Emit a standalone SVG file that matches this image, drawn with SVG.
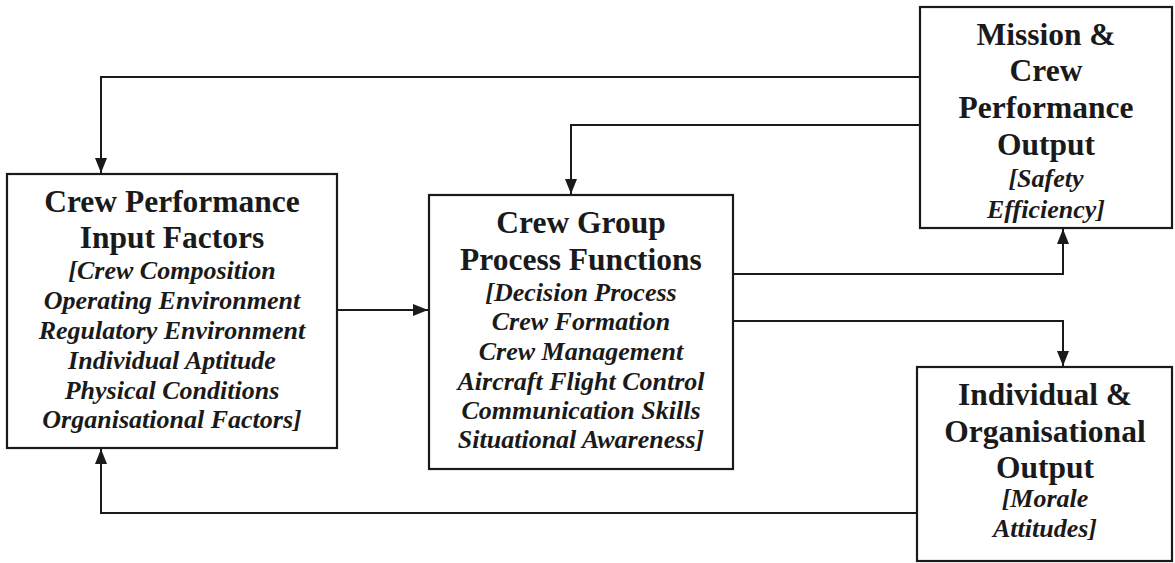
<svg xmlns="http://www.w3.org/2000/svg" width="1175" height="563" viewBox="0 0 1175 563">
  <style>
    .box { fill: #ffffff; stroke: #1a1a1a; stroke-width: 2.2; }
    .wire { fill: none; stroke: #1a1a1a; stroke-width: 2; }
    .title { font-family: "Liberation Serif", "Times New Roman", serif; font-weight: bold; font-size: 31.5px; fill: #1a1a1a; text-anchor: middle; }
    .sub { font-family: "Liberation Serif", "Times New Roman", serif; font-weight: bold; font-style: italic; font-size: 26px; fill: #1a1a1a; text-anchor: middle; }
  </style>
  <defs>
    <marker id="arrow" viewBox="0 0 15 12" refX="15" refY="6" markerWidth="15" markerHeight="12" markerUnits="userSpaceOnUse" orient="auto">
      <path d="M0,0 L15,6 L0,12 Z" fill="#1a1a1a"/>
    </marker>
  </defs>
  <rect width="1175" height="563" fill="#ffffff"/>

  <g id="connectors">
    <!-- mission output feeds back to input factors -->
    <path class="wire" d="M920,77 H101 V173" marker-end="url(#arrow)"/>
    <!-- mission output feeds back to group process -->
    <path class="wire" d="M920,125 H571 V194" marker-end="url(#arrow)"/>
    <!-- input factors to group process -->
    <path class="wire" d="M337,310 H428" marker-end="url(#arrow)"/>
    <!-- group process to mission output -->
    <path class="wire" d="M733,274 H1063 V229" marker-end="url(#arrow)"/>
    <!-- group process to individual output -->
    <path class="wire" d="M733,321 H1063 V366" marker-end="url(#arrow)"/>
    <!-- individual output feeds back to input factors -->
    <path class="wire" d="M917,513 H101 V449" marker-end="url(#arrow)"/>
  </g>

  <g id="input-factors">
    <rect class="box" x="7" y="174" width="330" height="274"/>
    <text class="title" x="172" y="212">Crew Performance</text>
    <text class="title" x="172" y="248">Input Factors</text>
    <text class="sub" x="172" y="279">[Crew Composition</text>
    <text class="sub" x="172" y="309">Operating Environment</text>
    <text class="sub" x="172" y="339">Regulatory Environment</text>
    <text class="sub" x="172" y="369">Individual Aptitude</text>
    <text class="sub" x="172" y="399">Physical Conditions</text>
    <text class="sub" x="172" y="428">Organisational Factors]</text>
  </g>

  <g id="group-process">
    <rect class="box" x="429" y="195" width="304" height="274"/>
    <text class="title" x="581" y="233">Crew Group</text>
    <text class="title" x="581" y="270">Process Functions</text>
    <text class="sub" x="581" y="301">[Decision Process</text>
    <text class="sub" x="581" y="330">Crew Formation</text>
    <text class="sub" x="581" y="360">Crew Management</text>
    <text class="sub" x="581" y="390">Aircraft Flight Control</text>
    <text class="sub" x="581" y="419">Communication Skills</text>
    <text class="sub" x="581" y="448">Situational Awareness]</text>
  </g>

  <g id="mission-output">
    <rect class="box" x="920" y="7" width="252" height="221"/>
    <text class="title" x="1046" y="45">Mission &amp;</text>
    <text class="title" x="1046" y="81">Crew</text>
    <text class="title" x="1046" y="118">Performance</text>
    <text class="title" x="1046" y="155">Output</text>
    <text class="sub" x="1046" y="187">[Safety</text>
    <text class="sub" x="1046" y="218">Efficiency]</text>
  </g>

  <g id="individual-output">
    <rect class="box" x="917" y="367" width="255" height="194"/>
    <text class="title" x="1045" y="405">Individual &amp;</text>
    <text class="title" x="1045" y="442">Organisational</text>
    <text class="title" x="1045" y="478">Output</text>
    <text class="sub" x="1045" y="507">[Morale</text>
    <text class="sub" x="1045" y="537">Attitudes]</text>
  </g>
</svg>
